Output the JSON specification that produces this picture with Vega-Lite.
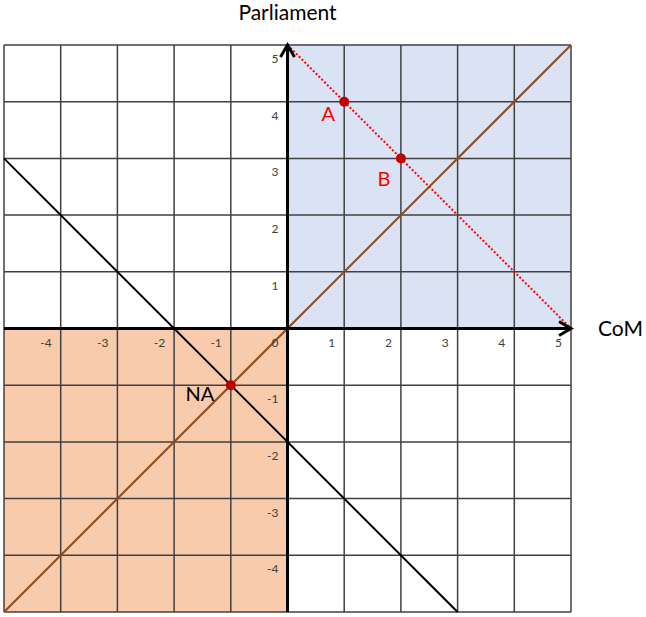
{
  "$schema": "https://vega.github.io/schema/vega-lite/v6.json",
  "width": 567,
  "height": 567,
  "autosize": "none",
  "padding": {"left": 4, "top": 45, "right": 75, "bottom": 5},
  "background": "white",
  "config": {"view": {"stroke": null}, "text": {"font": "Lato"}},
  "datasets": {
    "quadrants": [
      {"x": 0, "x2": 5, "y": 0, "y2": 5, "q": "I"},
      {"x": -5, "x2": 0, "y": -5, "y2": 0, "q": "III"}
    ],
    "grid": [{"v": -5}, {"v": -4}, {"v": -3}, {"v": -2}, {"v": -1}, {"v": 0}, {"v": 1}, {"v": 2}, {"v": 3}, {"v": 4}, {"v": 5}],
    "lines": [
      {"s": "diag", "x": -5, "y": -5}, {"s": "diag", "x": 5, "y": 5},
      {"s": "anti", "x": -5, "y": 3}, {"s": "anti", "x": 3, "y": -5},
      {"s": "red", "x": 0, "y": 5}, {"s": "red", "x": 5, "y": 0}
    ],
    "points": [
      {"label": "A", "x": 1, "y": 4},
      {"label": "B", "x": 2, "y": 3},
      {"label": "NA", "x": -1, "y": -1}
    ],
    "arrows": [
      {"dir": "up", "x": 0, "y": 5},
      {"dir": "right", "x": 5, "y": 0}
    ],
    "ticks": [
      {"t": "-4", "x": -4, "y": 0}, {"t": "-3", "x": -3, "y": 0}, {"t": "-2", "x": -2, "y": 0}, {"t": "-1", "x": -1, "y": 0}, {"t": "0", "x": 0, "y": 0},
      {"t": "1", "x": 1, "y": 0}, {"t": "2", "x": 2, "y": 0}, {"t": "3", "x": 3, "y": 0}, {"t": "4", "x": 4, "y": 0}, {"t": "5", "x": 5, "y": 0},
      {"t": "1", "x": 0, "y": 1}, {"t": "2", "x": 0, "y": 2}, {"t": "3", "x": 0, "y": 3}, {"t": "4", "x": 0, "y": 4}, {"t": "5", "x": 0, "y": 5},
      {"t": "-1", "x": 0, "y": -1}, {"t": "-2", "x": 0, "y": -2}, {"t": "-3", "x": 0, "y": -3}, {"t": "-4", "x": 0, "y": -4}
    ],
    "titles": [
      {"t": "Parliament", "x": 0, "y": 5, "k": "y"},
      {"t": "CoM", "x": 5, "y": 0, "k": "x"}
    ]
  },
  "layer": [
    {
      "data": {"name": "quadrants"},
      "mark": {"type": "rect"},
      "encoding": {
        "x": {"field": "x", "type": "quantitative", "scale": {"domain": [-5, 5], "nice": false, "zero": false}, "axis": null},
        "x2": {"field": "x2"},
        "y": {"field": "y", "type": "quantitative", "scale": {"domain": [-5, 5], "nice": false, "zero": false}, "axis": null},
        "y2": {"field": "y2"},
        "color": {"field": "q", "type": "nominal", "scale": {"domain": ["I", "III"], "range": ["#dae3f3", "#f8cbad"]}, "legend": null}
      }
    },
    {
      "data": {"name": "grid"},
      "mark": {"type": "rule", "color": "#404040", "strokeWidth": 1.5},
      "encoding": {
        "x": {"field": "v", "type": "quantitative", "axis": null}
      }
    },
    {
      "data": {"name": "grid"},
      "mark": {"type": "rule", "color": "#404040", "strokeWidth": 1.5},
      "encoding": {
        "y": {"field": "v", "type": "quantitative", "axis": null}
      }
    },
    {
      "data": {"name": "lines"},
      "transform": [{"filter": "datum.s === 'diag'"}],
      "mark": {"type": "line", "color": "#8e4a1c", "strokeWidth": 2},
      "encoding": {
        "x": {"field": "x", "type": "quantitative", "axis": null},
        "y": {"field": "y", "type": "quantitative", "axis": null}
      }
    },
    {
      "data": {"name": "lines"},
      "transform": [{"filter": "datum.s === 'anti'"}],
      "mark": {"type": "line", "color": "#000000", "strokeWidth": 2},
      "encoding": {
        "x": {"field": "x", "type": "quantitative", "axis": null},
        "y": {"field": "y", "type": "quantitative", "axis": null}
      }
    },
    {
      "data": {"name": "grid"},
      "transform": [{"filter": "datum.v === 0"}],
      "mark": {"type": "rule", "color": "#000000", "strokeWidth": 3},
      "encoding": {
        "x": {"field": "v", "type": "quantitative", "axis": null}
      }
    },
    {
      "data": {"name": "grid"},
      "transform": [{"filter": "datum.v === 0"}],
      "mark": {"type": "rule", "color": "#000000", "strokeWidth": 3},
      "encoding": {
        "y": {"field": "v", "type": "quantitative", "axis": null}
      }
    },
    {
      "data": {"name": "lines"},
      "transform": [{"filter": "datum.s === 'red'"}],
      "mark": {"type": "line", "color": "#ff0000", "strokeWidth": 2, "strokeDash": [2, 2]},
      "encoding": {
        "x": {"field": "x", "type": "quantitative", "axis": null},
        "y": {"field": "y", "type": "quantitative", "axis": null}
      }
    },
    {
      "data": {"name": "arrows"},
      "mark": {"type": "point", "filled": false, "stroke": "#000000", "strokeWidth": 3, "opacity": 1, "size": 196},
      "encoding": {
        "x": {"field": "x", "type": "quantitative", "axis": null},
        "y": {"field": "y", "type": "quantitative", "axis": null},
        "shape": {"field": "dir", "type": "nominal", "scale": {"domain": ["up", "right"], "range": ["M-1,1.7L0,0L1,1.7", "M-1.7,-1L0,0L-1.7,1"]}, "legend": null}
      }
    },
    {
      "data": {"name": "points"},
      "mark": {"type": "circle", "color": "#c00000", "opacity": 1, "size": 100},
      "encoding": {
        "x": {"field": "x", "type": "quantitative", "axis": null},
        "y": {"field": "y", "type": "quantitative", "axis": null}
      }
    },
    {
      "data": {"name": "points"},
      "transform": [{"filter": "datum.label === 'A'"}],
      "mark": {"type": "text", "color": "#ff0000", "fontSize": 20, "align": "center", "baseline": "middle", "dx": -16, "dy": 13},
      "encoding": {
        "x": {"field": "x", "type": "quantitative", "axis": null},
        "y": {"field": "y", "type": "quantitative", "axis": null},
        "text": {"field": "label"}
      }
    },
    {
      "data": {"name": "points"},
      "transform": [{"filter": "datum.label === 'B'"}],
      "mark": {"type": "text", "color": "#ff0000", "fontSize": 20, "align": "center", "baseline": "middle", "dx": -17, "dy": 22},
      "encoding": {
        "x": {"field": "x", "type": "quantitative", "axis": null},
        "y": {"field": "y", "type": "quantitative", "axis": null},
        "text": {"field": "label"}
      }
    },
    {
      "data": {"name": "points"},
      "transform": [{"filter": "datum.label === 'NA'"}],
      "mark": {"type": "text", "color": "#000000", "fontSize": 20, "align": "center", "baseline": "middle", "dx": -31, "dy": 10},
      "encoding": {
        "x": {"field": "x", "type": "quantitative", "axis": null},
        "y": {"field": "y", "type": "quantitative", "axis": null},
        "text": {"field": "label"}
      }
    },
    {
      "data": {"name": "ticks"},
      "mark": {"type": "text", "color": "#404040", "fontSize": 12, "align": "right", "baseline": "middle", "dx": -9, "dy": 14},
      "encoding": {
        "x": {"field": "x", "type": "quantitative", "axis": null},
        "y": {"field": "y", "type": "quantitative", "axis": null},
        "text": {"field": "t"}
      }
    },
    {
      "data": {"name": "titles"},
      "transform": [{"filter": "datum.k === 'y'"}],
      "mark": {"type": "text", "color": "#000000", "fontSize": 21, "align": "center", "baseline": "middle", "dy": -31},
      "encoding": {
        "x": {"field": "x", "type": "quantitative", "axis": null},
        "y": {"field": "y", "type": "quantitative", "axis": null},
        "text": {"field": "t"}
      }
    },
    {
      "data": {"name": "titles"},
      "transform": [{"filter": "datum.k === 'x'"}],
      "mark": {"type": "text", "color": "#000000", "fontSize": 21, "align": "left", "baseline": "middle", "dx": 27, "dy": 1},
      "encoding": {
        "x": {"field": "x", "type": "quantitative", "axis": null},
        "y": {"field": "y", "type": "quantitative", "axis": null},
        "text": {"field": "t"}
      }
    }
  ]
}
